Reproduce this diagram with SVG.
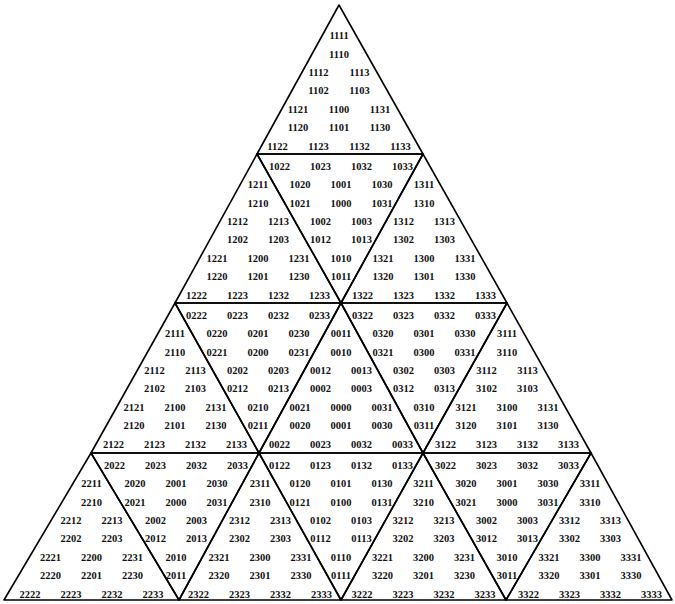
<svg xmlns="http://www.w3.org/2000/svg" width="675" height="604" viewBox="0 0 675 604">
<style>
.tri{fill:none;stroke:#000;stroke-width:1.6;stroke-linejoin:round}
text{font-family:"Liberation Serif","Times New Roman",serif;font-size:10.5px;font-weight:bold;text-anchor:middle;fill:#111}
</style>
<rect width="675" height="604" fill="#fff"/>

<g id="t11">
<polygon class="tri" points="339,5 257,154 423,154"/>
<g transform="translate(339,5)">
<text x="0" y="34.1">1111</text><text x="0" y="52.5">1110</text>
<text x="-20.5" y="70.9">1112</text><text x="20.5" y="70.9">1113</text>
<text x="-20.5" y="89.3">1102</text><text x="20.5" y="89.3">1103</text>
<text x="-41" y="107.7">1121</text><text x="0" y="107.7">1100</text><text x="41" y="107.7">1131</text>
<text x="-41" y="126.1">1120</text><text x="0" y="126.1">1101</text><text x="41" y="126.1">1130</text>
<text x="-61.5" y="144.5">1122</text><text x="-20.5" y="144.5">1123</text><text x="20.5" y="144.5">1132</text><text x="61.5" y="144.5">1133</text>
</g></g>

<g id="t12">
<polygon class="tri" points="257,154 175,303 341,303"/>
<g transform="translate(258,154)">
<text x="0" y="34.1">1211</text><text x="0" y="52.5">1210</text>
<text x="-20.5" y="70.9">1212</text><text x="20.5" y="70.9">1213</text>
<text x="-20.5" y="89.3">1202</text><text x="20.5" y="89.3">1203</text>
<text x="-41" y="107.7">1221</text><text x="0" y="107.7">1200</text><text x="41" y="107.7">1231</text>
<text x="-41" y="126.1">1220</text><text x="0" y="126.1">1201</text><text x="41" y="126.1">1230</text>
<text x="-61.5" y="144.5">1222</text><text x="-20.5" y="144.5">1223</text><text x="20.5" y="144.5">1232</text><text x="61.5" y="144.5">1233</text>
</g></g>

<g id="t10">
<polygon class="tri" points="257,154 423,154 341,303"/>
<g transform="translate(341,154)">
<text x="-61.5" y="15.7">1022</text><text x="-20.5" y="15.7">1023</text><text x="20.5" y="15.7">1032</text><text x="61.5" y="15.7">1033</text>
<text x="-41" y="34.1">1020</text><text x="0" y="34.1">1001</text><text x="41" y="34.1">1030</text>
<text x="-41" y="52.5">1021</text><text x="0" y="52.5">1000</text><text x="41" y="52.5">1031</text>
<text x="-20.5" y="70.9">1002</text><text x="20.5" y="70.9">1003</text>
<text x="-20.5" y="89.3">1012</text><text x="20.5" y="89.3">1013</text>
<text x="0" y="107.7">1010</text><text x="0" y="126.1">1011</text>
</g></g>

<g id="t13">
<polygon class="tri" points="423,154 341,303 507,303"/>
<g transform="translate(424,154)">
<text x="0" y="34.1">1311</text><text x="0" y="52.5">1310</text>
<text x="-20.5" y="70.9">1312</text><text x="20.5" y="70.9">1313</text>
<text x="-20.5" y="89.3">1302</text><text x="20.5" y="89.3">1303</text>
<text x="-41" y="107.7">1321</text><text x="0" y="107.7">1300</text><text x="41" y="107.7">1331</text>
<text x="-41" y="126.1">1320</text><text x="0" y="126.1">1301</text><text x="41" y="126.1">1330</text>
<text x="-61.5" y="144.5">1322</text><text x="-20.5" y="144.5">1323</text><text x="20.5" y="144.5">1332</text><text x="61.5" y="144.5">1333</text>
</g></g>

<g id="t21">
<polygon class="tri" points="175,303 91,453 259,453"/>
<g transform="translate(175,303)">
<text x="0" y="34.1">2111</text><text x="0" y="52.5">2110</text>
<text x="-20.5" y="70.9">2112</text><text x="20.5" y="70.9">2113</text>
<text x="-20.5" y="89.3">2102</text><text x="20.5" y="89.3">2103</text>
<text x="-41" y="107.7">2121</text><text x="0" y="107.7">2100</text><text x="41" y="107.7">2131</text>
<text x="-41" y="126.1">2120</text><text x="0" y="126.1">2101</text><text x="41" y="126.1">2130</text>
<text x="-61.5" y="144.5">2122</text><text x="-20.5" y="144.5">2123</text><text x="20.5" y="144.5">2132</text><text x="61.5" y="144.5">2133</text>
</g></g>

<g id="t02">
<polygon class="tri" points="175,303 341,303 259,453"/>
<g transform="translate(258,303)">
<text x="-61.5" y="15.7">0222</text><text x="-20.5" y="15.7">0223</text><text x="20.5" y="15.7">0232</text><text x="61.5" y="15.7">0233</text>
<text x="-41" y="34.1">0220</text><text x="0" y="34.1">0201</text><text x="41" y="34.1">0230</text>
<text x="-41" y="52.5">0221</text><text x="0" y="52.5">0200</text><text x="41" y="52.5">0231</text>
<text x="-20.5" y="70.9">0202</text><text x="20.5" y="70.9">0203</text>
<text x="-20.5" y="89.3">0212</text><text x="20.5" y="89.3">0213</text>
<text x="0" y="107.7">0210</text><text x="0" y="126.1">0211</text>
</g></g>

<g id="t00">
<polygon class="tri" points="341,303 259,453 423,453"/>
<g transform="translate(341,303)">
<text x="0" y="34.1">0011</text><text x="0" y="52.5">0010</text>
<text x="-20.5" y="70.9">0012</text><text x="20.5" y="70.9">0013</text>
<text x="-20.5" y="89.3">0002</text><text x="20.5" y="89.3">0003</text>
<text x="-41" y="107.7">0021</text><text x="0" y="107.7">0000</text><text x="41" y="107.7">0031</text>
<text x="-41" y="126.1">0020</text><text x="0" y="126.1">0001</text><text x="41" y="126.1">0030</text>
<text x="-61.5" y="144.5">0022</text><text x="-20.5" y="144.5">0023</text><text x="20.5" y="144.5">0032</text><text x="61.5" y="144.5">0033</text>
</g></g>

<g id="t03">
<polygon class="tri" points="341,303 507,303 423,453"/>
<g transform="translate(424,303)">
<text x="-61.5" y="15.7">0322</text><text x="-20.5" y="15.7">0323</text><text x="20.5" y="15.7">0332</text><text x="61.5" y="15.7">0333</text>
<text x="-41" y="34.1">0320</text><text x="0" y="34.1">0301</text><text x="41" y="34.1">0330</text>
<text x="-41" y="52.5">0321</text><text x="0" y="52.5">0300</text><text x="41" y="52.5">0331</text>
<text x="-20.5" y="70.9">0302</text><text x="20.5" y="70.9">0303</text>
<text x="-20.5" y="89.3">0312</text><text x="20.5" y="89.3">0313</text>
<text x="0" y="107.7">0310</text><text x="0" y="126.1">0311</text>
</g></g>

<g id="t31">
<polygon class="tri" points="507,303 423,453 591,453"/>
<g transform="translate(507,303)">
<text x="0" y="34.1">3111</text><text x="0" y="52.5">3110</text>
<text x="-20.5" y="70.9">3112</text><text x="20.5" y="70.9">3113</text>
<text x="-20.5" y="89.3">3102</text><text x="20.5" y="89.3">3103</text>
<text x="-41" y="107.7">3121</text><text x="0" y="107.7">3100</text><text x="41" y="107.7">3131</text>
<text x="-41" y="126.1">3120</text><text x="0" y="126.1">3101</text><text x="41" y="126.1">3130</text>
<text x="-61.5" y="144.5">3122</text><text x="-20.5" y="144.5">3123</text><text x="20.5" y="144.5">3132</text><text x="61.5" y="144.5">3133</text>
</g></g>

<g id="t22">
<polygon class="tri" points="91,453 4,600 179,600"/>
<g transform="translate(91.5,453)">
<text x="0" y="34.1">2211</text><text x="0" y="52.5">2210</text>
<text x="-20.5" y="70.9">2212</text><text x="20.5" y="70.9">2213</text>
<text x="-20.5" y="89.3">2202</text><text x="20.5" y="89.3">2203</text>
<text x="-41" y="107.7">2221</text><text x="0" y="107.7">2200</text><text x="41" y="107.7">2231</text>
<text x="-41" y="126.1">2220</text><text x="0" y="126.1">2201</text><text x="41" y="126.1">2230</text>
<text x="-61.5" y="144.5">2222</text><text x="-20.5" y="144.5">2223</text><text x="20.5" y="144.5">2232</text><text x="61.5" y="144.5">2233</text>
</g></g>

<g id="t20">
<polygon class="tri" points="91,453 259,453 179,600"/>
<g transform="translate(176,453)">
<text x="-61.5" y="15.7">2022</text><text x="-20.5" y="15.7">2023</text><text x="20.5" y="15.7">2032</text><text x="61.5" y="15.7">2033</text>
<text x="-41" y="34.1">2020</text><text x="0" y="34.1">2001</text><text x="41" y="34.1">2030</text>
<text x="-41" y="52.5">2021</text><text x="0" y="52.5">2000</text><text x="41" y="52.5">2031</text>
<text x="-20.5" y="70.9">2002</text><text x="20.5" y="70.9">2003</text>
<text x="-20.5" y="89.3">2012</text><text x="20.5" y="89.3">2013</text>
<text x="0" y="107.7">2010</text><text x="0" y="126.1">2011</text>
</g></g>

<g id="t23">
<polygon class="tri" points="259,453 179,600 341,600"/>
<g transform="translate(260,453)">
<text x="0" y="34.1">2311</text><text x="0" y="52.5">2310</text>
<text x="-20.5" y="70.9">2312</text><text x="20.5" y="70.9">2313</text>
<text x="-20.5" y="89.3">2302</text><text x="20.5" y="89.3">2303</text>
<text x="-41" y="107.7">2321</text><text x="0" y="107.7">2300</text><text x="41" y="107.7">2331</text>
<text x="-41" y="126.1">2320</text><text x="0" y="126.1">2301</text><text x="41" y="126.1">2330</text>
<text x="-61.5" y="144.5">2322</text><text x="-20.5" y="144.5">2323</text><text x="20.5" y="144.5">2332</text><text x="61.5" y="144.5">2333</text>
</g></g>

<g id="t01">
<polygon class="tri" points="259,453 423,453 341,600"/>
<g transform="translate(341,453)">
<text x="-61.5" y="15.7">0122</text><text x="-20.5" y="15.7">0123</text><text x="20.5" y="15.7">0132</text><text x="61.5" y="15.7">0133</text>
<text x="-41" y="34.1">0120</text><text x="0" y="34.1">0101</text><text x="41" y="34.1">0130</text>
<text x="-41" y="52.5">0121</text><text x="0" y="52.5">0100</text><text x="41" y="52.5">0131</text>
<text x="-20.5" y="70.9">0102</text><text x="20.5" y="70.9">0103</text>
<text x="-20.5" y="89.3">0112</text><text x="20.5" y="89.3">0113</text>
<text x="0" y="107.7">0110</text><text x="0" y="126.1">0111</text>
</g></g>

<g id="t32">
<polygon class="tri" points="423,453 341,600 506,600"/>
<g transform="translate(423.5,453)">
<text x="0" y="34.1">3211</text><text x="0" y="52.5">3210</text>
<text x="-20.5" y="70.9">3212</text><text x="20.5" y="70.9">3213</text>
<text x="-20.5" y="89.3">3202</text><text x="20.5" y="89.3">3203</text>
<text x="-41" y="107.7">3221</text><text x="0" y="107.7">3200</text><text x="41" y="107.7">3231</text>
<text x="-41" y="126.1">3220</text><text x="0" y="126.1">3201</text><text x="41" y="126.1">3230</text>
<text x="-61.5" y="144.5">3222</text><text x="-20.5" y="144.5">3223</text><text x="20.5" y="144.5">3232</text><text x="61.5" y="144.5">3233</text>
</g></g>

<g id="t30">
<polygon class="tri" points="423,453 591,453 506,600"/>
<g transform="translate(507,453)">
<text x="-61.5" y="15.7">3022</text><text x="-20.5" y="15.7">3023</text><text x="20.5" y="15.7">3032</text><text x="61.5" y="15.7">3033</text>
<text x="-41" y="34.1">3020</text><text x="0" y="34.1">3001</text><text x="41" y="34.1">3030</text>
<text x="-41" y="52.5">3021</text><text x="0" y="52.5">3000</text><text x="41" y="52.5">3031</text>
<text x="-20.5" y="70.9">3002</text><text x="20.5" y="70.9">3003</text>
<text x="-20.5" y="89.3">3012</text><text x="20.5" y="89.3">3013</text>
<text x="0" y="107.7">3010</text><text x="0" y="126.1">3011</text>
</g></g>

<g id="t33">
<polygon class="tri" points="591,453 506,600 672,600"/>
<g transform="translate(590,453)">
<text x="0" y="34.1">3311</text><text x="0" y="52.5">3310</text>
<text x="-20.5" y="70.9">3312</text><text x="20.5" y="70.9">3313</text>
<text x="-20.5" y="89.3">3302</text><text x="20.5" y="89.3">3303</text>
<text x="-41" y="107.7">3321</text><text x="0" y="107.7">3300</text><text x="41" y="107.7">3331</text>
<text x="-41" y="126.1">3320</text><text x="0" y="126.1">3301</text><text x="41" y="126.1">3330</text>
<text x="-61.5" y="144.5">3322</text><text x="-20.5" y="144.5">3323</text><text x="20.5" y="144.5">3332</text><text x="61.5" y="144.5">3333</text>
</g></g>
</svg>
